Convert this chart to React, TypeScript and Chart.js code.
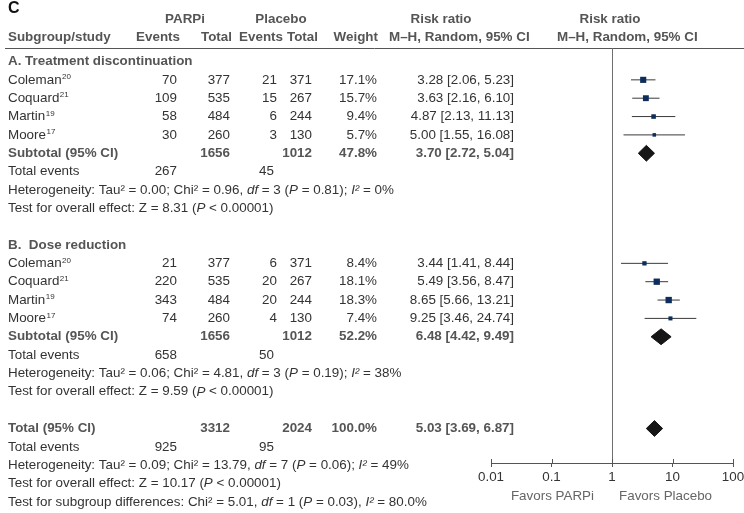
import React, { useEffect, useRef } from "react";
import { Chart, registerables } from "chart.js";
Chart.register(...registerables);

// ---------------- data ----------------
const STUDIES = ["Coleman", "Coquard", "Martin", "Moore"];
const REFS = ["20", "21", "19", "17"];

const A_PARPI_EVENTS = [70, 109, 58, 30];
const A_PARPI_TOTAL = [377, 535, 484, 260];
const A_PLAC_EVENTS = [21, 15, 6, 3];
const A_PLAC_TOTAL = [371, 267, 244, 130];
const A_WEIGHT = [17.1, 15.7, 9.4, 5.7];
const A_RR = [3.28, 3.63, 4.87, 5.0];
const A_LO = [2.06, 2.16, 2.13, 1.55];
const A_HI = [5.23, 6.1, 11.13, 16.08];

const B_PARPI_EVENTS = [21, 220, 343, 74];
const B_PARPI_TOTAL = [377, 535, 484, 260];
const B_PLAC_EVENTS = [6, 20, 20, 4];
const B_PLAC_TOTAL = [371, 267, 244, 130];
const B_WEIGHT = [8.4, 18.1, 18.3, 7.4];
const B_RR = [3.44, 5.49, 8.65, 9.25];
const B_LO = [1.41, 3.56, 5.66, 3.46];
const B_HI = [8.44, 8.47, 13.21, 24.74];

// pooled: [A subtotal, B subtotal, Total]
const POOL_LABELS = ["Subtotal (95% CI)", "Subtotal (95% CI)", "Total (95% CI)"];
const POOL_PARPI_TOTAL = [1656, 1656, 3312];
const POOL_PLAC_TOTAL = [1012, 1012, 2024];
const POOL_WEIGHT = [47.8, 52.2, 100.0];
const POOL_RR = [3.7, 6.48, 5.03];
const POOL_LO = [2.72, 4.42, 3.69];
const POOL_HI = [5.04, 9.49, 6.87];
const POOL_PARPI_EVENTS = [267, 658, 925];
const POOL_PLAC_EVENTS = [45, 50, 95];
const HET_TAU2 = ["0.00", "0.06", "0.09"];
const HET_CHI2 = ["0.96", "4.81", "13.79"];
const HET_DF = ["3", "3", "7"];
const HET_P = ["0.81", "0.19", "0.06"];
const HET_I2 = ["0%", "38%", "49%"];
const Z_VALUES = ["8.31", "9.59", "10.17"];
const SUBGROUP_DIFF = ["5.01", "1", "0.03", "80.0%"];

const AXIS_TICKS = [0.01, 0.1, 1, 10, 100];
const AXIS_LABELS = ["0.01", "0.1", "1", "10", "100"];

// row indexes (table rows)
const ROWS_A = [1, 2, 3, 4];
const ROWS_B = [11, 12, 13, 14];
const ROW_HEAD_A = 0;
const ROW_HEAD_B = 10;
const POOL_ROWS = [5, 15, 20];
const EVENT_ROWS = [6, 16, 21];
const HET_ROWS = [7, 17, 22];
const TEST_ROWS = [8, 18, 23];
const ROW_SUBGROUP = 24;

// ---------------- style ----------------
const W = 744;
const H = 513;
const ROW_Y0 = 61.5;
const ROW_H = 18.35;
const AREA_TOP = 48;
const AREA_BOTTOM = 463;
const AREA_LEFT = 491;
const AREA_RIGHT = 733;
const X_SCALE_H = 40;
const FONT = '"Liberation Sans", Arial, Helvetica, sans-serif';
const FS = 13.4;
const TXT = "#333333";
const BOLD_TXT = "#555555";
const MARK = "#0d2d5c";
const LINE = "#3a3a3a";
const DIAMOND = "#161616";
const DIAMOND_HALF = 0.43;

const COL_NAME = 8;
const COL_PE = 177;
const COL_PT = 230;
const COL_CE = 277;
const COL_CT = 312;
const COL_W = 377;
const COL_RR = 514;
const COL_EVT_C = 274;

const fmtRR = (r: number, lo: number, hi: number) =>
  `${r.toFixed(2)} [${lo.toFixed(2)}, ${hi.toFixed(2)}]`;

type Seg = [string, "n" | "i"];

function drawRich(ctx: CanvasRenderingContext2D, x: number, y: number, segs: Seg[]) {
  let cx = x;
  ctx.textAlign = "left";
  for (const [t, s] of segs) {
    ctx.font = `${s === "i" ? "italic " : ""}${FS}px ${FONT}`;
    ctx.fillText(t, cx, y);
    cx += ctx.measureText(t).width;
  }
}

function txt(
  ctx: CanvasRenderingContext2D,
  s: string,
  x: number,
  y: number,
  align: CanvasTextAlign,
  bold = false,
  color = TXT,
  size = FS
) {
  ctx.font = `${bold ? "bold " : ""}${size}px ${FONT}`;
  ctx.fillStyle = color;
  ctx.textAlign = align;
  ctx.fillText(s, x, y);
}

const tablePlugin = {
  id: "forestTable",
  beforeDatasetsDraw(chart: any) {
    const ctx: CanvasRenderingContext2D = chart.ctx;
    const xs = chart.scales.x;
    const { top, bottom } = chart.chartArea;
    ctx.save();
    ctx.lineWidth = 1;
    ctx.strokeStyle = "#555555";
    ctx.beginPath();
    ctx.moveTo(5, top + 0.5);
    ctx.lineTo(W, top + 0.5);
    ctx.stroke();
    const px = Math.round(xs.getPixelForValue(1)) + 0.5;
    ctx.strokeStyle = "#6e6e6e";
    ctx.beginPath();
    ctx.moveTo(px, top);
    ctx.lineTo(px, bottom);
    ctx.stroke();
    ctx.restore();
  },
  afterDraw(chart: any) {
    const ctx: CanvasRenderingContext2D = chart.ctx;
    const ys = chart.scales.y;
    const xs = chart.scales.x;
    const Y = (r: number) => ys.getPixelForValue(r);
    ctx.save();
    ctx.textBaseline = "middle";

    // upward half of axis ticks
    ctx.strokeStyle = "#555555";
    ctx.lineWidth = 1;
    const ab = chart.chartArea.bottom;
    for (const t of AXIS_TICKS) {
      const p = Math.round(xs.getPixelForValue(t)) + 0.5;
      ctx.beginPath();
      ctx.moveTo(p, ab - 4);
      ctx.lineTo(p, ab);
      ctx.stroke();
    }

    // headers
    txt(ctx, "C", 8, 9, "left", true, "#111111", 16);
    txt(ctx, "PARPi", 185, 19, "center", true, BOLD_TXT);
    txt(ctx, "Placebo", 281, 19, "center", true, BOLD_TXT);
    txt(ctx, "Risk ratio", 441, 19, "center", true, BOLD_TXT);
    txt(ctx, "Risk ratio", 610, 19, "center", true, BOLD_TXT);
    txt(ctx, "Subgroup/study", 8, 37, "left", true, BOLD_TXT);
    txt(ctx, "Events", 180, 37, "right", true, BOLD_TXT);
    txt(ctx, "Total", 232, 37, "right", true, BOLD_TXT);
    txt(ctx, "Events", 283, 37, "right", true, BOLD_TXT);
    txt(ctx, "Total", 318, 37, "right", true, BOLD_TXT);
    txt(ctx, "Weight", 378, 37, "right", true, BOLD_TXT);
    txt(ctx, "M\u2013H, Random, 95% CI", 389, 37, "left", true, BOLD_TXT);
    txt(ctx, "M\u2013H, Random, 95% CI", 557, 37, "left", true, BOLD_TXT);

    txt(ctx, "A. Treatment discontinuation", 8, Y(ROW_HEAD_A), "left", true, BOLD_TXT);
    txt(ctx, "B.  Dose reduction", 8, Y(ROW_HEAD_B), "left", true, BOLD_TXT);

    const groups = [
      [ROWS_A, A_PARPI_EVENTS, A_PARPI_TOTAL, A_PLAC_EVENTS, A_PLAC_TOTAL, A_WEIGHT, A_RR, A_LO, A_HI],
      [ROWS_B, B_PARPI_EVENTS, B_PARPI_TOTAL, B_PLAC_EVENTS, B_PLAC_TOTAL, B_WEIGHT, B_RR, B_LO, B_HI],
    ] as number[][][];
    for (const [rows, pe, pt, ce, ct, w, rr, lo, hi] of groups) {
      rows.forEach((r, i) => {
        const y = Y(r);
        txt(ctx, STUDIES[i], COL_NAME, y, "left");
        const nw = ctx.measureText(STUDIES[i]).width;
        txt(ctx, REFS[i], COL_NAME + nw + 0.5, y - 3, "left", false, TXT, 8);
        txt(ctx, String(pe[i]), COL_PE, y, "right");
        txt(ctx, String(pt[i]), COL_PT, y, "right");
        txt(ctx, String(ce[i]), COL_CE, y, "right");
        txt(ctx, String(ct[i]), COL_CT, y, "right");
        txt(ctx, `${w[i].toFixed(1)}%`, COL_W, y, "right");
        txt(ctx, fmtRR(rr[i], lo[i], hi[i]), COL_RR, y, "right");
      });
    }

    for (let k = 0; k < 3; k++) {
      const y = Y(POOL_ROWS[k]);
      txt(ctx, POOL_LABELS[k], COL_NAME, y, "left", true, BOLD_TXT);
      txt(ctx, String(POOL_PARPI_TOTAL[k]), COL_PT, y, "right", true, BOLD_TXT);
      txt(ctx, String(POOL_PLAC_TOTAL[k]), COL_CT, y, "right", true, BOLD_TXT);
      txt(ctx, `${POOL_WEIGHT[k].toFixed(1)}%`, COL_W, y, "right", true, BOLD_TXT);
      txt(ctx, fmtRR(POOL_RR[k], POOL_LO[k], POOL_HI[k]), COL_RR, y, "right", true, BOLD_TXT);

      const ye = Y(EVENT_ROWS[k]);
      txt(ctx, "Total events", COL_NAME, ye, "left");
      txt(ctx, String(POOL_PARPI_EVENTS[k]), COL_PE, ye, "right");
      txt(ctx, String(POOL_PLAC_EVENTS[k]), COL_EVT_C, ye, "right");

      ctx.fillStyle = TXT;
      drawRich(ctx, COL_NAME, Y(HET_ROWS[k]), [
        [`Heterogeneity: Tau\u00b2 = ${HET_TAU2[k]}; Chi\u00b2 = ${HET_CHI2[k]}, `, "n"],
        ["df", "i"],
        [` = ${HET_DF[k]} (`, "n"],
        ["P", "i"],
        [` = ${HET_P[k]}); `, "n"],
        ["I\u00b2", "i"],
        [` = ${HET_I2[k]}`, "n"],
      ]);
      drawRich(ctx, COL_NAME, Y(TEST_ROWS[k]), [
        [`Test for overall effect: Z = ${Z_VALUES[k]} (`, "n"],
        ["P", "i"],
        [" < 0.00001)", "n"],
      ]);
    }
    drawRich(ctx, COL_NAME, Y(ROW_SUBGROUP), [
      [`Test for subgroup differences: Chi\u00b2 = ${SUBGROUP_DIFF[0]}, `, "n"],
      ["df", "i"],
      [` = ${SUBGROUP_DIFF[1]} (`, "n"],
      ["P", "i"],
      [` = ${SUBGROUP_DIFF[2]}), `, "n"],
      ["I\u00b2", "i"],
      [` = ${SUBGROUP_DIFF[3]}`, "n"],
    ]);

    // favours labels
    const p1 = xs.getPixelForValue(1);
    txt(ctx, "Favors PARPi", p1 - 18, 496, "right", false, "#666666");
    txt(ctx, "Favors Placebo", p1 + 7, 496, "left", false, "#666666");
    ctx.restore();
  },
};

export default function App() {
  const ref = useRef<HTMLCanvasElement | null>(null);
  useEffect(() => {
    const prevMargin = document.body.style.margin;
    document.body.style.margin = "0";
    const canvas = ref.current;
    if (!canvas) return;

    const markerData: any[] = [];
    const markerRadius: number[] = [];
    const ciSets: any[] = [];
    const addStudies = (rows: number[], rr: number[], lo: number[], hi: number[], w: number[]) => {
      rows.forEach((r, i) => {
        markerData.push({ x: rr[i], y: r });
        markerRadius.push(Math.sqrt(w[i]) * 1.05);
        ciSets.push({
          type: "line",
          data: [
            { x: lo[i], y: r },
            { x: hi[i], y: r },
          ],
          borderColor: LINE,
          borderWidth: 1,
          pointRadius: 0,
          showLine: true,
          fill: false,
          order: 2,
        });
      });
    };
    addStudies(ROWS_A, A_RR, A_LO, A_HI, A_WEIGHT);
    addStudies(ROWS_B, B_RR, B_LO, B_HI, B_WEIGHT);

    const diamonds = POOL_ROWS.map((r, k) => ({
      type: "line",
      data: [
        { x: POOL_LO[k], y: r },
        { x: POOL_RR[k], y: r - DIAMOND_HALF },
        { x: POOL_HI[k], y: r },
        { x: POOL_RR[k], y: r + DIAMOND_HALF },
        { x: POOL_LO[k], y: r },
      ],
      borderColor: DIAMOND,
      backgroundColor: DIAMOND,
      borderWidth: 1,
      pointRadius: 0,
      showLine: true,
      fill: "shape",
      tension: 0,
      order: 1,
    }));

    const yMin = (AREA_TOP - ROW_Y0) / ROW_H;
    const yMax = (AREA_BOTTOM - ROW_Y0) / ROW_H;

    const chart = new Chart(canvas, {
      type: "scatter",
      data: {
        datasets: [
          {
            type: "scatter",
            data: markerData,
            pointStyle: "rect",
            pointRadius: markerRadius,
            backgroundColor: MARK,
            borderColor: MARK,
            borderWidth: 0,
            order: 0,
          } as any,
          ...ciSets,
          ...diamonds,
        ],
      },
      options: {
        animation: false,
        responsive: false,
        events: [],
        layout: {
          padding: {
            left: AREA_LEFT,
            right: W - AREA_RIGHT,
            top: AREA_TOP,
            bottom: H - AREA_BOTTOM - X_SCALE_H,
          },
        },
        plugins: {
          legend: { display: false },
          tooltip: { enabled: false },
        },
        scales: {
          x: {
            type: "logarithmic",
            min: AXIS_TICKS[0],
            max: AXIS_TICKS[AXIS_TICKS.length - 1],
            position: "bottom",
            afterBuildTicks: (s: any) => {
              s.ticks = AXIS_TICKS.map((v) => ({ value: v }));
            },
            afterFit: (s: any) => {
              s.height = X_SCALE_H;
              s.paddingLeft = 0;
              s.paddingRight = 0;
            },
            ticks: {
              autoSkip: false,
              maxRotation: 0,
              padding: 2,
              color: "#333333",
              font: { family: FONT, size: 13.4 },
              callback: (_v: any, i: number) => AXIS_LABELS[i],
            },
            grid: {
              drawOnChartArea: false,
              drawTicks: true,
              tickLength: 4,
              color: "#555555",
              lineWidth: 1,
            },
            border: { display: true, color: "#555555", width: 1 },
          },
          y: {
            type: "linear",
            display: false,
            reverse: true,
            min: yMin,
            max: yMax,
          },
        },
      } as any,
      plugins: [tablePlugin],
    });
    return () => {
      chart.destroy();
      document.body.style.margin = prevMargin;
    };
  }, []);

  return (
    <div style={{ width: W, height: H, background: "#ffffff" }}>
      <canvas ref={ref} width={W} height={H} style={{ display: "block" }} />
    </div>
  );
}
